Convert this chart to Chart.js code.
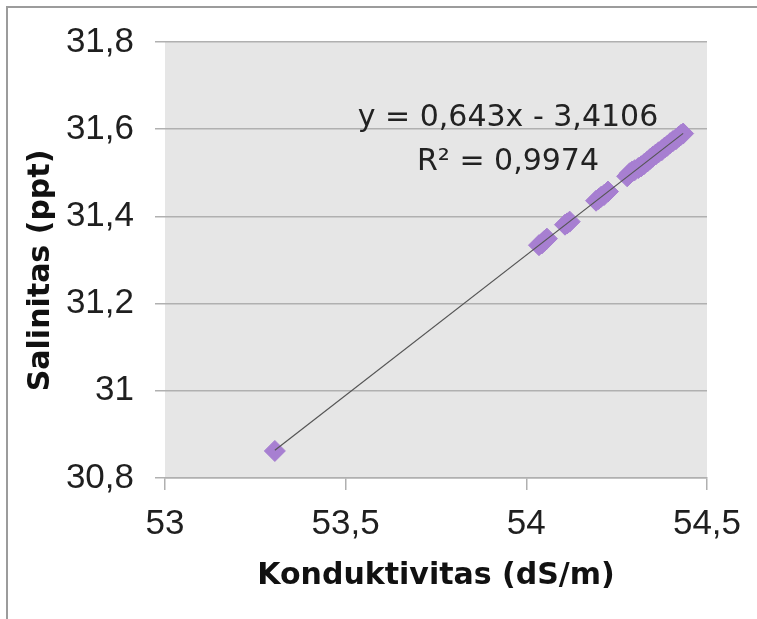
<!DOCTYPE html>
<html>
<head>
<meta charset="utf-8">
<script src="https://cdn.jsdelivr.net/npm/chart.js@4"></script>
<style>
  html, body { margin: 0; padding: 0; background: #ffffff; }
  canvas { display: block; }
</style>
</head>
<body>
<canvas id="c" width="757" height="619"></canvas>
<script>
// ---- data ----
const konduktivitas = [53.304,
  54.035, 54.043, 54.050, 54.057,
  54.107, 54.113, 54.120,
  54.193, 54.200, 54.207, 54.215, 54.226,
  54.279, 54.286, 54.293, 54.300, 54.310, 54.318, 54.326, 54.335, 54.343,
  54.350, 54.358, 54.366, 54.375, 54.383, 54.390, 54.398, 54.406, 54.414,
  54.422, 54.428, 54.434];
const salinitas = [30.862,
  31.334, 31.338, 31.344, 31.349,
  31.381, 31.384, 31.388,
  31.436, 31.440, 31.445, 31.449, 31.457,
  31.492, 31.499, 31.503, 31.506, 31.511, 31.515, 31.520, 31.526, 31.532,
  31.537, 31.542, 31.547, 31.552, 31.558, 31.562, 31.568, 31.573, 31.577,
  31.583, 31.587, 31.590];
const trendCoef = [0.643, -3.4106];           // slope, intercept
const trendText = ['y = 0,643x - 3,4106', 'R\u00B2 = 0,9974'];
const xTickValues = [53, 53.5, 54, 54.5];
const xTickLabels = ['53', '53,5', '54', '54,5'];
const yTickValues = [30.8, 31, 31.2, 31.4, 31.6, 31.8];
const yTickLabels = ['30,8', '31', '31,2', '31,4', '31,6', '31,8'];
const xTitle = 'Konduktivitas (dS/m)';
const yTitle = 'Salinitas (ppt)';

// ---- build datasets ----
const points = konduktivitas.map((x, i) => ({ x: x, y: salinitas[i] }));
const xMin = Math.min(...konduktivitas), xMax = Math.max(...konduktivitas);
const trend = [xMin, xMax].map(x => ({ x: x, y: trendCoef[0] * x + trendCoef[1] }));

const gridColor = '#b0b0b0';

const decorPlugin = {
  id: 'decor',
  beforeDraw(chart) {
    const ctx = chart.ctx, a = chart.chartArea;
    ctx.save();
    ctx.fillStyle = '#ffffff';
    ctx.fillRect(0, 0, chart.width, chart.height);
    ctx.fillStyle = '#e6e6e6';
    ctx.fillRect(a.left, a.top, a.right - a.left, a.bottom - a.top);
    // outer frame (top and left)
    ctx.strokeStyle = '#9c9c9c';
    ctx.lineWidth = 2;
    ctx.beginPath();
    ctx.moveTo(7, chart.height);
    ctx.lineTo(7, 7);
    ctx.lineTo(chart.width, 7);
    ctx.stroke();
    ctx.restore();
  },
  afterDraw(chart) {
    const ctx = chart.ctx;
    ctx.save();
    ctx.fillStyle = '#222222';
    ctx.font = '30px "DejaVu Sans"';
    ctx.textAlign = 'center';
    ctx.textBaseline = 'alphabetic';
    ctx.fillText(trendText[0], 508, 126);
    ctx.fillText(trendText[1], 508, 170);
    ctx.restore();
  }
};

new Chart(document.getElementById('c'), {
  type: 'scatter',
  data: {
    datasets: [
      {
        type: 'line',
        data: trend,
        borderColor: '#555555',
        borderWidth: 1.2,
        pointRadius: 0,
        fill: false,
        tension: 0
      },
      {
        data: points,
        pointStyle: 'rectRot',
        pointRadius: 10.5,
        pointBackgroundColor: '#a77fd1',
        pointBorderColor: '#a77fd1',
        pointBorderWidth: 1
      }
    ]
  },
  options: {
    responsive: false,
    animation: false,
    devicePixelRatio: 1,
    layout: { padding: { top: 42, right: 50, left: 0, bottom: 0 } },
    plugins: { legend: { display: false }, tooltip: { enabled: false } },
    scales: {
      x: {
        type: 'linear',
        min: 53, max: 54.5,
        afterBuildTicks(scale) { scale.ticks = xTickValues.map(v => ({ value: v })); },
        afterFit(scale) { scale.height = 141; },
        ticks: {
          callback(value, index) { return xTickLabels[index]; },
          font: { family: '"Liberation Sans"', size: 35 },
          color: '#1f1f1f',
          padding: 13,
          maxRotation: 0
        },
        grid: { drawOnChartArea: false, drawTicks: true, tickLength: 12, color: gridColor, lineWidth: 1.5 },
        border: { display: true, color: gridColor, width: 1.5 },
        title: {
          display: true,
          text: xTitle,
          font: { family: '"DejaVu Sans"', size: 30, weight: 'bold' },
          color: '#111111',
          padding: { top: 0, bottom: 25 }
        }
      },
      y: {
        type: 'linear',
        min: 30.8, max: 31.8,
        afterBuildTicks(scale) { scale.ticks = yTickValues.map(v => ({ value: v })); },
        afterFit(scale) { scale.width = 165; },
        ticks: {
          callback(value, index) { return yTickLabels[index]; },
          font: { family: '"Liberation Sans"', size: 35 },
          color: '#1f1f1f',
          padding: 21
        },
        grid: { drawOnChartArea: true, drawTicks: true, tickLength: 10, color: gridColor, lineWidth: 1.5 },
        border: { display: false },
        title: {
          display: true,
          text: yTitle + '  ',
          font: { family: '"DejaVu Sans"', size: 30, weight: 'bold' },
          color: '#111111',
          padding: { top: 23, bottom: 0 }
        }
      }
    }
  },
  plugins: [decorPlugin]
});
</script>
</body>
</html>
